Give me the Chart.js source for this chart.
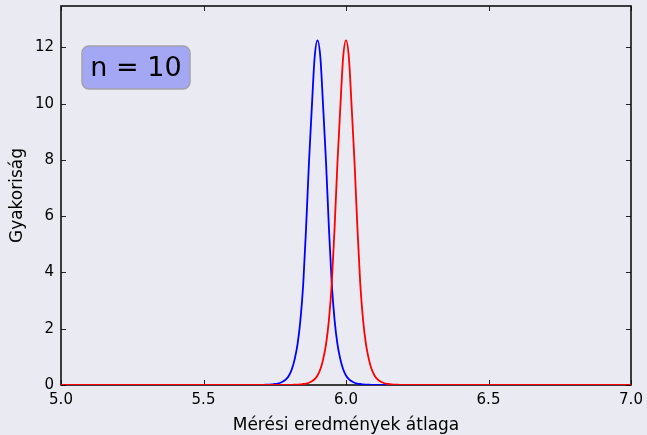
<!DOCTYPE html>
<html>
<head>
<meta charset="utf-8">
<script src="https://cdn.jsdelivr.net/npm/chart.js@4.4.1/dist/chart.umd.min.js"></script>
<style>
  html, body { margin: 0; padding: 0; background: #eaeaf2; }
  #wrap { width: 647px; height: 435px; }
</style>
</head>
<body>
<div id="wrap"><canvas id="c" width="647" height="435"></canvas></div>
<script>
// Shared x grid (measurement means)
const xs = [5.0, 5.5, 5.6,
  5.66, 5.67, 5.68, 5.69, 5.70, 5.71, 5.72, 5.73, 5.74, 5.75,
  5.76, 5.77, 5.78, 5.79, 5.80, 5.81, 5.82, 5.83, 5.84, 5.85,
  5.86, 5.87, 5.88, 5.89, 5.90, 5.91, 5.92, 5.93, 5.94, 5.95,
  5.96, 5.97, 5.98, 5.99, 6.00, 6.01, 6.02, 6.03, 6.04, 6.05,
  6.06, 6.07, 6.08, 6.09, 6.10, 6.11, 6.12, 6.13, 6.14, 6.15,
  6.16, 6.17, 6.18, 6.19, 6.20, 6.21, 6.22, 6.23, 6.24,
  6.3, 6.5, 7.0];

// Frequency of the sample mean, series centred at 5.9
const blueFreq = [0, 0, 0,
  0.0015, 0.002, 0.003, 0.004, 0.005, 0.007, 0.01, 0.015, 0.02, 0.035,
  0.05, 0.08, 0.13, 0.21, 0.34, 0.56, 0.92, 1.45, 2.3, 3.6,
  5.6, 7.9, 9.85, 11.65, 12.25, 11.65, 9.85, 7.9, 5.6, 3.6,
  2.3, 1.45, 0.92, 0.56, 0.34, 0.21, 0.13, 0.08, 0.05, 0.035,
  0.02, 0.015, 0.01, 0.007, 0.005, 0.004, 0.003, 0.002, 0.0015, 0.001,
  0.001, 0.0008, 0.0006, 0.0005, 0.0004, 0.0003, 0.0002, 0.0001, 0,
  0, 0, 0];

// Frequency of the sample mean, series centred at 6.0
const redFreq = [0, 0, 0,
  0, 0, 0.0001, 0.0002, 0.0003, 0.0004, 0.0005, 0.0006, 0.0008, 0.001,
  0.0015, 0.002, 0.003, 0.004, 0.005, 0.007, 0.01, 0.015, 0.02, 0.035,
  0.05, 0.08, 0.13, 0.21, 0.34, 0.56, 0.92, 1.45, 2.3, 3.6,
  5.6, 7.9, 9.85, 11.65, 12.25, 11.65, 9.85, 7.9, 5.6, 3.6,
  2.3, 1.45, 0.92, 0.56, 0.34, 0.21, 0.13, 0.08, 0.05, 0.035,
  0.02, 0.015, 0.01, 0.007, 0.005, 0.004, 0.003, 0.002, 0.0015,
  0.0005, 0, 0];

const xTicks = [5.0, 5.5, 6.0, 6.5, 7.0];
const yTicks = [0, 2, 4, 6, 8, 10, 12];
const yMax = 13.47;
const boxLabel = 'n = 10';
const xTitle = 'Mérési eredmények átlaga';
const yTitle = 'Gyakoriság';

const FONT = '"DejaVu Sans", sans-serif';

const pts = arr => xs.map((x, i) => ({ x: x, y: arr[i] }));

// Axes frame with inward ticks on all four sides, plus the annotation box
const framePlugin = {
  id: 'frame',
  beforeDatasetsDraw(chart) {
    const { ctx, chartArea: a, scales } = chart;
    ctx.save();
    ctx.strokeStyle = '#222';
    ctx.lineWidth = 1;
    const tl = 5;
    ctx.beginPath();
    xTicks.forEach(v => {
      const px = Math.round(scales.x.getPixelForValue(v)) + 0.5;
      ctx.moveTo(px, a.bottom); ctx.lineTo(px, a.bottom - tl);
      ctx.moveTo(px, a.top); ctx.lineTo(px, a.top + tl);
    });
    yTicks.forEach(v => {
      const py = Math.round(scales.y.getPixelForValue(v)) + 0.5;
      ctx.moveTo(a.left, py); ctx.lineTo(a.left + tl, py);
      ctx.moveTo(a.right, py); ctx.lineTo(a.right - tl, py);
    });
    ctx.stroke();
    ctx.strokeStyle = '#111';
    ctx.lineWidth = 1.6;
    ctx.strokeRect(a.left, a.top, a.right - a.left, a.bottom - a.top);
    ctx.restore();
  },
  afterDatasetsDraw(chart) {
    const { ctx, chartArea: a } = chart;
    ctx.save();
    const bx = a.left + 21, by = a.top + 40, bw = 108, bh = 43, r = 7;
    ctx.beginPath();
    ctx.roundRect(bx, by, bw, bh, r);
    ctx.fillStyle = '#a4a7f4';
    ctx.fill();
    ctx.strokeStyle = '#a2a2ac';
    ctx.lineWidth = 1.5;
    ctx.stroke();
    ctx.fillStyle = '#000';
    ctx.font = '27px ' + FONT;
    ctx.textAlign = 'center';
    ctx.textBaseline = 'middle';
    ctx.fillText(boxLabel, bx + bw / 2, by + bh / 2 + 1);
    ctx.restore();
  }
};

new Chart(document.getElementById('c'), {
  type: 'line',
  data: {
    datasets: [
      { label: 'piros', data: pts(redFreq), borderColor: '#ff0000', borderWidth: 1.8,
        pointRadius: 0, cubicInterpolationMode: 'monotone', fill: false, clip: 0 },
      { label: 'kék', data: pts(blueFreq), borderColor: '#0000ff', borderWidth: 1.8,
        pointRadius: 0, cubicInterpolationMode: 'monotone', fill: false, clip: 0 }
    ]
  },
  options: {
    responsive: false,
    animation: false,
    events: [],
    layout: { padding: { left: 0, top: 6, right: 16, bottom: 0 } },
    plugins: { legend: { display: false }, tooltip: { enabled: false } },
    scales: {
      x: {
        type: 'linear', min: 5.0, max: 7.0,
        grid: { display: false, drawTicks: false },
        border: { display: false },
        afterBuildTicks: s => { s.ticks = xTicks.map(v => ({ value: v })); },
        afterFit: s => { s.height = 50; s.paddingLeft = 0; s.paddingRight = 0; },
        ticks: {
          color: '#000', font: { family: FONT, size: 15 }, padding: 6,
          maxRotation: 0, autoSkip: false,
          callback: v => Number(v).toFixed(1)
        },
        title: { display: true, text: xTitle, color: '#000',
          font: { family: FONT, size: 17 }, padding: { top: 0, bottom: -1 } }
      },
      y: {
        type: 'linear', min: 0, max: yMax,
        grid: { display: false, drawTicks: false },
        border: { display: false },
        afterBuildTicks: s => { s.ticks = yTicks.map(v => ({ value: v })); },
        afterFit: s => { s.width = 61; s.paddingTop = 0; s.paddingBottom = 0; },
        ticks: {
          color: '#000', font: { family: FONT, size: 15 }, padding: 7,
          autoSkip: false, callback: v => String(v)
        },
        title: { display: true, text: yTitle, color: '#000',
          font: { family: FONT, size: 17 }, padding: { top: 7, bottom: 0 } }
      }
    }
  },
  plugins: [framePlugin]
});
</script>
</body>
</html>
